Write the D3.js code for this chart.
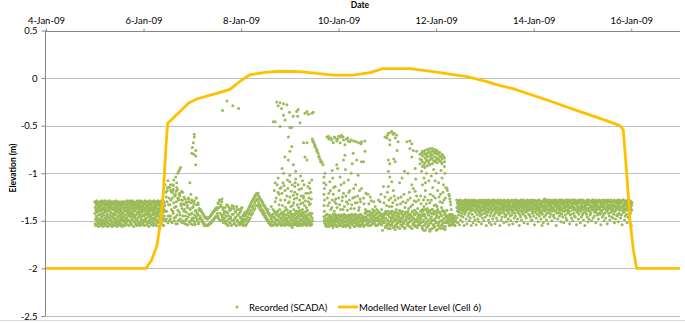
<!DOCTYPE html>
<html><head><meta charset="utf-8">
<script src="https://cdn.jsdelivr.net/npm/d3@7"></script>
<style>
html,body{margin:0;padding:0;background:#fff;}
svg{display:block;font-family:Lato,"Liberation Sans",sans-serif;}
</style></head><body>
<svg id="chart" width="685" height="323"></svg>
<script>
// ---------- DATA ----------
const xTickDays = [4, 6, 8, 10, 12, 14, 16];            // January 2009
const xTickLabels = ["4-Jan-09","6-Jan-09","8-Jan-09","10-Jan-09","12-Jan-09","14-Jan-09","16-Jan-09"];
const yTicks = [0.5, 0, -0.5, -1, -1.5, -2, -2.5];
const yTickLabels = ["0.5","0","-0.5","-1","-1.5","-2","-2.5"];

// Modelled Water Level (Cell 6): day of January 2009, elevation (m)
const modelDays = [4.0, 6.05, 6.167, 6.27, 6.338, 6.405, 6.46, 6.495, 6.61, 6.748, 6.918, 7.09, 7.295, 7.50, 7.773, 8.013, 8.183, 8.49, 8.798, 9.208, 9.885, 10.295, 10.643, 10.91, 11.464, 11.935, 12.632, 13.042, 13.309, 13.576, 14.273, 14.95, 15.504, 15.77, 15.837, 15.907, 15.974, 16.042, 16.112, 17.0];
const modelLevels = [-2, -2, -1.91, -1.77, -1.56, -1.21, -0.72, -0.475, -0.42, -0.35, -0.265, -0.22, -0.19, -0.16, -0.118, -0.02, 0.035, 0.06, 0.072, 0.067, 0.032, 0.032, 0.057, 0.10, 0.10, 0.067, 0.015, -0.038, -0.08, -0.11, -0.23, -0.353, -0.45, -0.5, -0.545, -1.0, -1.49, -1.8, -2.0, -2.0];

// Recorded (SCADA), regularly logged runs.
// Band arrays hold (depth below datum in cm - 100); run arrays hold depth below datum in cm.
const bandA = [
30,42,53,36,48,31,55,39,45,33, 50,29,41,54,37,47,32,52,40,35, 56,31,44,49,34,51,38,30,53,43, 36,48,30,55,40,33,50,45,31,54,
38,46,29,52,35,42,56,32,49,37, 30,44,53,39,31,51,36,47,33,55, 41,29,50,37,54,32,45,39,52,34, 48,31,43,56,36,30,51,40,46,33,
53,35,29,47,38,55,32,44,50,36, 31,49,41,34,53,30,46,37,56,42, 32,51,38,45,30,54,36,48,33,43, 55,30,47,39,52,34,41,31,50,37,
44,29,53,36,48,32,56,40,35,51, 30,46,38,54,33,42,50,31,45,37, 52,34,49,30,40,55,36,47,32,43, 38,53,31,45,50,33,41,56,30,48,
35,50,42,30,54,37,46,32,51,39, 31,44,55,36,49,30,52,40,34,47, 33,47,39,51,29,43,36,54,41,30, 49,32,45,38,55,31,42,35,50,44,
29,40,52,34,46,30,37,53,43,32, 54,36,31,48,41,29,50,38,45,33, 30,43,56,35,39,51,32,47,37,52, 46,31,40,53,34,44,30,49,36,55,
37,50,33,42,29,47,54,35,41,31, 52,38,30,45,36,51,32,43,55,40, 34,29,48,39,53,31,46,37,30,50, 41,54,35,30,44,38,52,33,49,36,
31,45,37,55,32,40,48,29,43,51, 39,33,50,36,47,30,54,42,35,44, 53,30,41,34,51,38,31,46,56,37, 32,49,43,29,40,52,36,45,33,48,
45,35,54,38,31,47,30,50,39,42, 30,52,36,44,55,33,41,29,48,37, 47,31,39,53,35,43,50,34,30,46, 36,55,32,41,49,30,44,38,52,33,
42,29,51,37,45,34,56,31,40,48, 33,46,38,30,53,42,35,49,29,44, 51,37,43,32,47,36,30,54,41,39, 29,48,35,55,38,31,45,40,50,34];
const bandB = [
28,36,47,31,40,52,33,38,29,44, 35,30,41,54,32,37,28,49,34,39, 31,45,29,36,42,33,51,30,38,46, 29,34,40,32,55,36,30,43,28,37,
41,28,33,48,31,39,35,53,29,36, 32,38,30,45,34,28,42,37,50,31, 36,29,47,33,40,31,38,55,30,35, 28,43,32,37,29,52,34,39,31,46,
34,30,39,28,49,35,32,41,36,54, 30,37,33,44,29,38,31,48,35,40, 29,51,34,30,42,36,28,45,32,39, 37,31,40,53,29,35,43,30,47,33,
28,39,32,36,50,30,38,34,42,29, 35,46,31,28,40,55,33,37,30,44, 32,29,41,36,34,49,28,39,31,52, 38,33,30,45,29,37,42,35,54,31,
30,40,36,28,48,32,39,33,45,29, 34,28,43,37,31,53,35,30,41,38, 29,47,32,39,35,30,50,36,28,42, 36,31,38,29,44,33,40,55,32,37,
28,42,34,49,30,36,31,46,39,33, 31,37,29,41,35,52,28,38,34,43, 35,30,46,32,39,29,44,36,51,30, 29,40,33,37,28,48,35,31,42,54,
37,32,39,30,45,34,29,50,36,38, 30,44,28,36,41,31,53,33,39,35, 33,29,47,35,30,42,37,28,45,32, 28,38,34,51,31,36,40,29,48,34,
36,30,42,29,37,55,32,39,33,44, 31,46,35,28,40,33,49,30,37,41, 29,35,31,43,36,28,39,52,34,30, 38,32,45,30,34,41,29,47,36,33,
30,40,28,37,53,31,38,35,43,29, 34,29,44,32,39,30,46,36,28,50, 37,31,35,49,29,42,33,40,31,38, 28,45,30,36,32,54,37,29,41,34,
33,38,29,47,35,30,43,31,39,36, 30,34,51,28,40,37,32,45,29,42, 36,29,39,33,48,31,35,41,30,55, 31,43,34,30,37,52,28,39,35,46,
27,33,40,29,36,31,44,38,28,49, 35,28,37,42,30,34,53,32,39,29, 30,41,33,28,46,36,31,38,43,34, 38,29,35,50,32,40,28,37,31,45,
29,36,44,31,38,30,47,33,40,28, 34,31,28,39,55,35,30,42,36,32, 31,48,37,29,34,41,33,28,45,38, 36,30,42,35,28,51,32,39,29,43,
28,37,31,46,33,29,40,36,52,30, 33,40,29,36,31,44,38,28,47,35, 30,35,49,32,39,28,42,34,30,41, 37,28,34,40,30,53,31,36,44,29,
29,43,36,31,47,33,28,39,35,50, 35,31,38,28,42,36,30,45,32,37, 28,46,30,39,33,29,54,37,31,40, 32,36,41,30,35,48,28,43,38,31,
30,29,37,52,31,40,34,28,46,36, 38,33,28,44,36,30,42,31,49,29, 29,39,35,31,55,34,37,30,41,33, 34,30,43,37,28,46,32,39,29,51,
31,37,28,48,33,40,30,36,44,35, 36,42,30,34,29,50,38,31,39,28, 28,35,47,31,37,33,29,45,36,41, 33,30,39,28,52,35,41,32,30,38,
30,44,34,37,31,29,48,36,42,28, 37,29,36,43,30,39,33,54,31,35, 29,41,31,35,46,28,38,30,44,33, 35,32,50,29,36,42,30,37,28,47,
31,38,29,40,34,31,53,35,39,30, 28,36,42,33,30,45,37,29,49,34, 36,30,35,28,41,38,31,46,33,39, 30,47,33,37,29,35,43,28,40,52,
34,29,40,31,48,36,30,38,35,44, 29,37,31,45,33,28,51,36,42,30, 38,32,28,39,35,43,30,47,31,36, 31,44,36,30,54,29,39,34,28,41,
35,28,41,37,32,49,33,30,45,38, 30,39,34,29,43,31,36,52,37,28, 33,46,30,38,28,40,35,31,48,36, 29,35,42,32,37,30,55,34,39,31];
const run1 = [112,150,125,140,118,152,133,145, 115,148,128,138,152,120,142,131,150,124,146,135,110,153,139,127,149,121,144,132,151,137, 128,150,140,133,153,145,130,148,136,154,126,143,151,138,131,149,142,154,135,147,129,152,140,146,133,150,144,153,139,148];
const run1b = [140,120,148,130,115,145,126,150, 133,145,118,151,126,140,113,147,136,122,153,130,144,117,150,128,141,124,148,134,119,152, 145,132,152,138,127,149,141,154,134,146,130,151,137,143,153,128,147,136,150,132,144,154,139,126,148,142,131,152,137,145];
const run2 = [138,147,140,149,142,151,144,153,146,155,147,155,148,155,147,154,146,153,145,152,143,150,141,149,140,147,138,146,137, 138,145,132,148,128,142,135,150,130,146,138,152,141, 147,136,153,141,150,134,155,145,139,152,148,137,154,143,150,135,149,153,140,146,155,138,151,144,152,142,154,147,137,150,153,145,151,148,154];
const run2b = [138,148,140,151,142,153,145,155,147,154,146,155,148,154,147,153,146,152,144,151,142,150,140,148,139,146,137,145,136, 142,131,147,136,129,150,133,144,127,148,136,143,150, 140,151,145,133,154,142,148,136,152,139,146,155,134,150,143,137,153,147,141,155,135,149,144,151,138,154,146,140,152,136,148,155,143,150,141];
const run3 = [145,155,142,153,140,151,137,149,135,147,132,144,130,142,127,139,125,137,123,134,121, 122,134,124,136,126,138,128,140,130,142,132,144,134,146,136,148,138,150,140,152,142,153,144,155,146];
const run3b = [150,143,148,140,146,138,143,135,141,133,139,130,136,128,134,126,131,123,129,122,127, 128,121,131,125,133,127,135,129,138,131,140,134,142,136,145,138,147,141,149,143,151,145,153,148,154];
const run4 = [145,151,138,154,147,142,153,149,144,155,140,150,146,152,143,154,148,141,153,145,150,143,155,147,152,144,149,154,142,151,146,153,140,148,155,145,150,143,152,147,154,141,149,146,153,144,151,155,142,148,150,145,153,143,147,154,149,141,152,146,155,144,150,148,153,142,151,145,154,147];
const run4b = [150,143,155,146,140,152,148,144,154,141,149,153,145,138,151,147,155,142,150,146,153,140,148,154,144,151,139,147,152,145,155,141,149,143,153,146,150,138,154,144,148,152,142,155,147,140,151,145,153,149,143,155,141,150,146,152,144,154,148,140,151,147,153,143,149,155,145,152,142,150];
const run5 = [146,152,149,155,144,150,153,147,156,145,151,148,154,146,150,155,143,149,152,147,154,145,151,156,148,144,153,150,146,155,149,152,144,148,154,151,145,156,147,150,153,146,149,155,144,152,148,151,154,145,150,147,156,143,149,153,146,152,155,148,144,151,154,147,150,145,153,149,156,146,
 142,150,146,153,140,148,155,144,151,141,147,154,143,149,152,145,140,153,147,150,142,155,146,149,141,152,144,148,154,143,150,147,
 145,152,141,157,148,143,155,150,140,153,146,158,142,149,154,144,151,147,156,141,150,145,153,148,142,157,146,151,140,154,149,143,156,147,152,144,158,141,150,146,153,142,155,148,144,151,157,145,149,140,154,147,152,143,156,150,141,148,155,146,153,144,151,
 140,152,145,158,138,149,155,143,160,147,151,139,156,144,153,141,148,159,146,150,138,154,143,157,149,142,152,160,145,139,155,147,151,141,158,144,150,153,140,156,148,143,159,146,152,139,
 145,152,148,155,143,150,154,146,151,144,153,149,147,155,150];
const run5b = [150,145,154,148,156,143,151,147,153,149,144,155,146,152,148,157,145,150,154,143,149,156,147,151,145,153,148,155,144,150,152,146,156,149,143,154,147,151,145,155,150,144,153,148,157,146,151,143,154,149,145,152,156,147,150,144,155,148,153,146,151,156,143,149,154,145,152,147,155,150,
 147,141,154,149,144,152,140,150,145,155,142,148,153,146,141,151,149,144,155,143,150,147,140,153,145,151,142,148,154,146,152,144,
 150,143,156,147,141,153,149,158,144,151,142,155,147,140,152,146,157,143,150,148,154,141,156,145,152,149,143,158,147,151,141,155,146,153,144,150,157,142,148,154,145,140,152,147,156,143,150,146,158,141,153,148,144,155,149,142,151,157,145,150,143,154,147,
 148,139,156,143,151,160,145,138,153,147,157,141,150,155,144,159,139,152,146,158,142,149,154,140,156,147,151,144,159,138,153,146,157,142,150,155,145,139,158,148,152,141,156,144,150,147,
 150,145,153,147,155,144,151,148,154,146,152,149,155,145,151];
const runStartDay  = [5.00, 12.42, 6.44, 6.446, 7.16, 7.166, 8.08, 8.086, 8.63, 8.636, 9.70, 9.706];
const runStepDay   = [0.0036, 0.0045, 0.012, 0.012, 0.012, 0.012, 0.012, 0.012, 0.012, 0.012, 0.012, 0.012];
const runOffsetCm  = [100, 100, 0, 0, 0, 0, 0, 0, 0, 0, 0, 0];
const runValues    = [bandA, bandB, run1, run1b, run2, run2b, run3, run3b, run4, run4b, run5, run5b];

// Recorded (SCADA): irregular readings [day, depth below datum cm]
const recordedScatter = [
[7.62,34],[7.71,24],[7.83,29],[7.95,32],
[7.04,59],[7.04,62],[7.02,68],[7.00,73],[6.99,79],[7.03,80],[7.07,76],[7.07,82],[7.07,91],[6.95,110],
[6.62,107],[6.66,104],[6.70,100],[6.74,96],[6.76,94],[6.72,98],[6.60,112],[6.68,115],[6.56,118],[6.80,120],
[6.50,108],[6.52,115],[6.55,112],[6.58,120],[6.61,117],[6.64,123],[6.67,119],[6.70,126],[6.73,122],[6.78,128],[6.83,125],[6.88,131],[6.92,127],[6.97,122],[7.02,130],[7.08,126],[7.12,133],
[8.70,130],[8.78,122],[8.82,115],[8.86,110],[8.90,118],[8.95,107],[9.00,125],[9.05,112],[9.10,120],[9.15,133],[9.20,128],[9.28,126],[9.33,121],
[8.73,25],[8.80,26],[8.87,27],[8.94,28],[8.76,29],[8.83,32],[8.87,39],[8.90,44],[8.80,51],[8.70,46],[9.04,52],[9.07,40],[9.14,35],[9.17,33],[9.16,40],[9.21,47],[9.31,37],[9.38,38],[9.48,36],[9.00,52],[9.35,35],[9.45,37],[8.66,46],[8.99,36],
[8.97,62],[9.04,72],[9.00,77],[8.90,83],[8.97,86],[9.07,91],[8.87,100],[8.76,105],[9.00,102],[9.31,83],[9.35,86],[9.28,68],[9.35,68],
[8.70,110],[8.80,116],[9.00,109],[9.10,114],[9.17,112],[9.24,116],[9.07,123],[9.14,126],[9.28,124],[9.38,121],[9.41,116],[9.45,107],[9.38,130],[8.90,128],[8.97,131],[8.76,120],[8.62,135],[8.55,138],
[8.85,134],[8.93,138],[9.02,135],[9.08,131],[9.13,140],[9.18,136],[9.22,132],[9.26,138],[9.30,134],[9.36,139],[9.40,133],[9.44,127],[9.12,106],[9.22,103],[9.26,108],[8.84,95],[9.12,98],[9.40,110],
[8.68,118],[8.72,126],[8.74,112],[8.78,133],[8.81,128],[8.84,121],[8.88,113],[8.91,136],[8.94,124],[8.96,116],[8.99,130],[9.03,119],[9.06,134],[9.09,127],[9.11,110],[9.15,122],[9.19,117],[9.21,139],[9.23,124],[9.27,131],[9.29,112],[9.32,129],[9.34,136],[9.37,114],[9.39,126],[9.42,132],[9.43,120],
[9.46,64],[9.48,66],[9.50,69],[9.52,71],[9.54,74],[9.56,76],[9.58,79],[9.60,82],[9.62,85],[9.64,87],[9.66,89],[9.68,91],[9.47,67],[9.51,72],[9.55,77],[9.59,83],[9.63,88],
[9.70,104],[9.70,110],[9.71,116],[9.70,122],[9.71,128],[9.70,134],[9.71,140],
[9.76,62],[9.80,64],[9.86,65],[9.93,63],[10.00,61],[10.06,60],[10.10,65],[10.16,64],[10.26,65],[10.36,67],[10.46,69],[10.03,68],[10.13,70],[9.89,68],[9.96,66],[10.20,66],
[9.79,61],[9.84,63],[9.91,62],[9.98,64],[10.04,62],[10.09,62],[10.19,63],[10.23,67],[10.31,66],[10.41,68],
[9.87,97],[9.96,91],[10.10,86],[10.13,81],[10.30,79],[10.37,86],[10.47,88],[10.03,104],[9.82,109],[9.93,114],[10.20,107],[10.23,118],[10.10,121],[9.80,121],[9.87,128],[10.16,130],[10.33,125],[10.43,118],[9.72,100],[9.88,105],[9.90,115],[9.92,130],[9.91,140],[10.05,112],[10.08,125],[10.04,138],
[9.78,134],[9.84,138],[9.95,132],[10.00,126],[10.12,135],[10.18,139],[10.22,128],[10.27,133],[10.32,137],[10.38,131],[10.42,136],[10.26,100],[10.35,112],[10.40,102],[10.45,130],[9.98,95],[10.14,96],[10.28,90],
[9.74,112],[9.77,126],[9.81,131],[9.83,118],[9.86,136],[9.89,122],[9.94,127],[9.97,136],[10.01,118],[10.02,133],[10.07,129],[10.09,138],[10.11,110],[10.15,124],[10.19,132],[10.21,120],[10.25,137],[10.29,126],[10.31,116],[10.34,131],[10.39,124],[10.41,139],[10.44,127],
[10.47,67],[10.54,66],[10.54,77],[10.51,88],[10.95,62],[11.02,58],[11.09,56],[11.12,59],[11.19,60],[11.16,63],[11.05,65],[10.99,63],[11.22,67],[11.05,70],[11.02,86],[11.05,90],[11.13,85],[11.20,76],[11.16,88],[11.02,98],[11.05,104],[11.09,109],[11.02,114],[10.92,114],[11.12,118],[10.95,125],[11.16,128],[11.09,135],[11.00,60],[11.07,57],[11.14,58],
[10.47,116],[10.51,126],[10.60,122],[10.62,132],[10.67,129],[10.70,138],[10.58,140],[10.75,135],[10.56,121],[10.63,140],
[10.85,130],[10.88,138],[10.98,134],[11.03,128],[11.10,140],[11.14,124],[11.20,133],[11.25,139],[11.28,125],[11.32,130],[11.36,136],[11.42,128],[11.45,120],[11.48,135],[11.55,129],[11.60,124],[11.62,137],[11.30,105],[11.35,98],[11.25,110],[11.42,100],[11.58,106],
[10.52,132],[10.55,138],[10.65,125],[10.72,130],[10.78,138],[10.82,128],[10.87,122],[10.93,131],[10.97,140],[11.00,120],[11.04,135],[11.07,126],[11.11,131],[11.18,138],[11.22,126],[11.27,132],[11.31,140],[11.34,122],[11.38,131],[11.44,137],[11.47,126],[11.52,133],[11.56,139],[11.59,130],[11.64,128],
[11.40,67],[11.46,66],[11.50,69],[11.46,74],[11.53,76],[11.60,77],[11.50,83],[11.57,95],[11.50,112],[11.53,116],[11.57,119],
[11.67,80],[11.67,85],[11.67,90],[11.72,77],[11.72,82],[11.72,88],[11.72,93],[11.77,76],[11.77,80],[11.77,84],[11.77,89],[11.77,94],[11.82,75],[11.82,79],[11.82,83],[11.82,87],[11.82,92],[11.87,74],[11.87,78],[11.87,82],[11.87,86],[11.87,91],[11.92,74],[11.92,77],[11.92,81],[11.92,85],[11.92,90],[11.97,75],[11.97,79],[11.97,83],[11.97,88],[12.02,76],[12.02,80],[12.02,84],[12.02,89],[12.07,78],[12.07,82],[12.07,87],[12.12,80],[12.12,85],[12.12,90],[12.17,84],[12.17,88],[12.17,93],
[11.70,79],[11.70,86],[11.75,78],[11.75,91],[11.80,81],[11.80,86],[11.85,77],[11.85,89],[11.90,80],[11.90,84],[11.95,77],[11.95,87],[12.00,78],[12.00,86],[12.05,79],[12.05,85],[12.10,83],[12.10,88],[12.15,82],
[11.70,98],[11.75,105],[11.72,112],[11.80,100],[11.85,108],[11.78,118],[11.90,103],[11.95,96],[11.93,115],[11.88,122],[12.00,100],[12.05,110],[11.98,126],[12.03,118],[12.10,97],[12.12,105],[12.08,130],[11.83,128],[11.75,135],[12.15,112],[12.18,100],[11.92,138],[12.02,135],[11.68,124],
[11.70,140],[11.74,128],[11.80,132],[11.86,140],[11.90,128],[11.96,134],[12.00,140],[12.06,125],[12.11,136],[12.16,128],[11.78,110],[11.98,108],[12.14,120],
[11.69,132],[11.73,140],[11.77,125],[11.82,137],[11.87,131],[11.91,142],[11.94,124],[11.99,133],[12.04,141],[12.09,122],[12.13,131],[12.17,140],[12.19,126],
[12.20,115],[12.23,118],[12.26,122],[12.28,127],[12.30,133],[12.31,138],[12.32,143],[12.33,148],[12.34,152],[12.22,116],[12.27,124],[12.29,130],
[11.16,159],[11.87,161],[10.90,160],[9.05,157]
];

const legendLabels = ["Recorded (SCADA)", "Modelled Water Level (Cell 6)"];
const axisTitles = {x: "Date", y: "Elevation (m)"};

// ---------- DRAW ----------
const GREEN = "#9BBB59", ORANGE = "#FFC000";
const dayToDate = d => new Date(Date.UTC(2009, 0, 1) + (d - 1) * 864e5);
const svg = d3.select("#chart");
const W = 685, H = 323;
const x = d3.scaleUtc().domain([dayToDate(4), dayToDate(17)]).range([46, 680]);
const y = d3.scaleLinear().domain([-2.5, 0.5]).range([316, 30.5]);

// chart bottom border
svg.append("line").attr("x1", 0).attr("x2", W).attr("y1", 320.5).attr("y2", 320.5)
  .attr("stroke", "#d9d9d9").attr("stroke-width", 1);

// horizontal gridlines
svg.append("g").selectAll("line").data(yTicks.filter(v => v !== 0.5)).join("line")
  .attr("x1", 46).attr("x2", 680)
  .attr("y1", d => Math.round(y(d)) + 0.5).attr("y2", d => Math.round(y(d)) + 0.5)
  .attr("stroke", "#bfbfbf").attr("stroke-width", 1);

// top axis (dates)
const xAxis = d3.axisTop(x)
  .tickValues(xTickDays.map(dayToDate))
  .tickFormat((d, i) => xTickLabels[i])
  .tickSize(3).tickPadding(5);
const gx = svg.append("g").attr("transform", `translate(0,${Math.round(y(0.5)) + 0.5})`).call(xAxis);
gx.select(".domain").attr("stroke", "#868686").attr("d", `M46,0H680`);
gx.selectAll(".tick line").attr("stroke", "#868686");
gx.selectAll("text").attr("fill", "#000").style("font-size", "9.5px").style("font-family", "Lato, 'Liberation Sans', sans-serif");

// left axis
const yAxis = d3.axisLeft(y).tickValues(yTicks).tickFormat((d, i) => yTickLabels[i]).tickSize(4).tickPadding(4);
const gy = svg.append("g").attr("transform", `translate(45.5,0)`).call(yAxis);
gy.select(".domain").attr("stroke", "#868686").attr("d", `M0,${y(0.5)}V${y(-2.5)}`);
gy.selectAll(".tick line").attr("stroke", "#868686");
gy.selectAll("text").attr("fill", "#000").style("font-size", "9.5px").style("font-family", "Lato, 'Liberation Sans', sans-serif");

// axis titles
svg.append("text").attr("x", 360).attr("y", 8).attr("text-anchor", "middle")
  .style("font-size", "8.5px").style("font-weight", "bold").text(axisTitles.x);
svg.append("text").attr("transform", "translate(16,168) rotate(-90)").attr("text-anchor", "middle")
  .style("font-size", "8.5px").style("font-weight", "bold").text(axisTitles.y);

// recorded points
const recorded = [];
runValues.forEach((vals, k) => vals.forEach((v, i) =>
  recorded.push({day: runStartDay[k] + i * runStepDay[k], v: -(v + runOffsetCm[k]) / 100})));
recordedScatter.forEach(([d, v]) => recorded.push({day: d, v: -v / 100}));
svg.append("g").selectAll("circle").data(recorded).join("circle")
  .attr("cx", d => x(dayToDate(d.day))).attr("cy", d => y(d.v)).attr("r", 1.5).attr("fill", GREEN);

// modelled line
const line = d3.line().x(d => x(dayToDate(d[0]))).y(d => y(d[1]));
svg.append("path").datum(modelDays.map((d, i) => [d, modelLevels[i]]))
  .attr("d", line).attr("fill", "none").attr("stroke", ORANGE).attr("stroke-width", 2.8).attr("stroke-linejoin", "round");

// legend
const lg = svg.append("g").style("font-size", "9.5px");
lg.append("circle").attr("cx", 237).attr("cy", 307).attr("r", 1.5).attr("fill", GREEN);
lg.append("text").attr("x", 249).attr("y", 310.5).text(legendLabels[0]);
lg.append("line").attr("x1", 338).attr("x2", 358).attr("y1", 307).attr("y2", 307).attr("stroke", ORANGE).attr("stroke-width", 2.8);
lg.append("text").attr("x", 359).attr("y", 310.5).text(legendLabels[1]);
</script>
</body></html>
